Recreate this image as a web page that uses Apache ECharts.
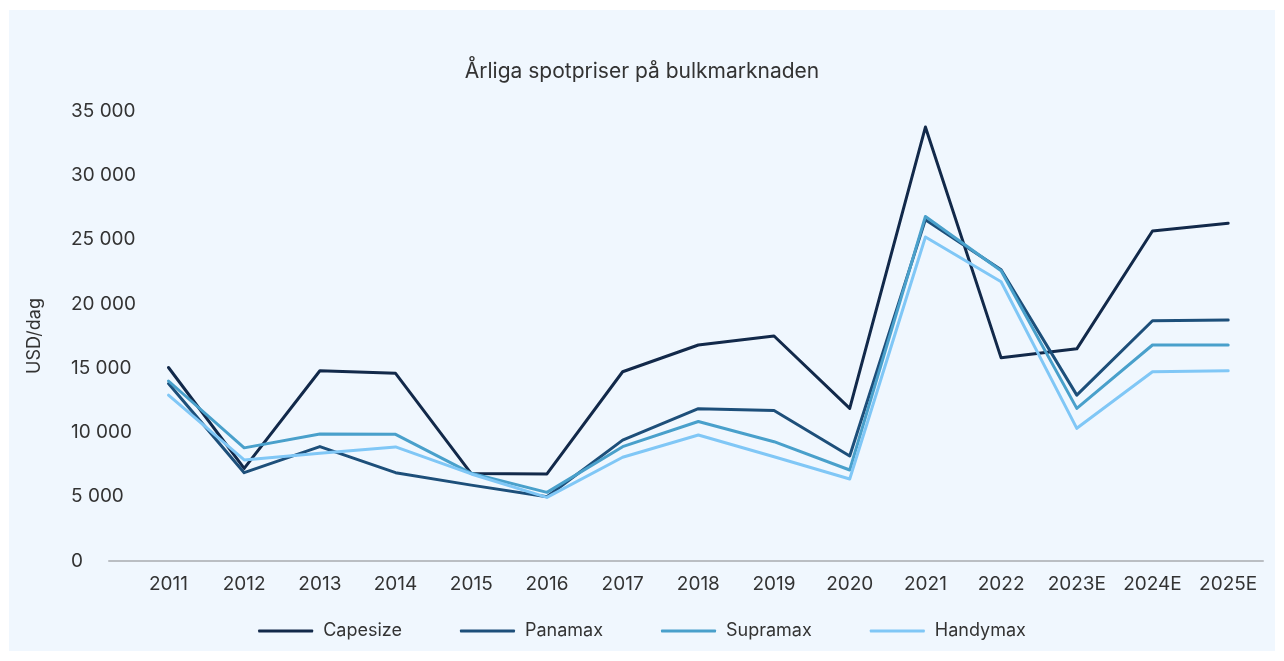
<!DOCTYPE html>
<html>
<head>
<meta charset="utf-8">
<script src="https://cdn.jsdelivr.net/npm/echarts@6/dist/echarts.min.js"></script>
<style>
  html, body { margin: 0; padding: 0; background: #ffffff; }
  #chart { width: 1284px; height: 661px; }
</style>
</head>
<body>
<div id="chart"></div>
<script>
    // kategorier (år) och spotpriser, USD/dag
    var years = ['2011', '2012', '2013', '2014', '2015', '2016', '2017', '2018',
        '2019', '2020', '2021', '2022', '2023E', '2024E', '2025E'];
    var capesize = [15050, 7200, 14800, 14600, 6800, 6770, 14720, 16800, 17500, 11870, 33750, 15800, 16500, 25670, 26270];
    var panamax  = [13800, 6870, 8900, 6870, 5900, 5000, 9400, 11850, 11700, 8170, 26550, 22650, 12900, 18690, 18740];
    var supramax = [14000, 8800, 9880, 9850, 6820, 5340, 8890, 10850, 9280, 7080, 26800, 22580, 11870, 16800, 16800];
    var handymax = [12900, 7860, 8380, 8870, 6770, 4950, 8070, 9800, 8110, 6380, 25200, 21720, 10320, 14720, 14800];
    var yTicks = [0, 5000, 10000, 15000, 20000, 25000, 30000, 35000];

    var fontFamily = 'Inter, "Noto Sans", sans-serif';
    var textColor = '#333333';

    function toPairs(arr) {
        return arr.map(function (v, i) { return [i, v]; });
    }

    function makeSeries(name, data, color) {
        return {
            name: name,
            type: 'line',
            data: toPairs(data),
            symbol: 'none',
            lineStyle: { color: color, width: 3, cap: 'round', join: 'round' },
            itemStyle: { color: color }
        };
    }

    var myChart = echarts.init(document.getElementById('chart'));

    var option = {
        animation: false,
        backgroundColor: '#ffffff',
        graphic: [{
            type: 'rect',
            z: -10,
            shape: { x: 9, y: 10, width: 1266, height: 641 },
            style: { fill: '#f0f7fe' }
        }],
        title: {
            text: 'Årliga spotpriser på bulkmarknaden',
            left: 'center',
            top: 56,
            textStyle: { fontFamily: fontFamily, fontSize: 21, fontWeight: 'normal', color: textColor }
        },
        legend: {
            bottom: 16,
            left: 'center',
            icon: 'roundRect',
            itemWidth: 55,
            itemHeight: 3,
            itemGap: 58,
            textStyle: { fontFamily: fontFamily, fontSize: 18, color: textColor, padding: [0, 0, 0, 5] },
            data: ['Capesize', 'Panamax', 'Supramax', 'Handymax']
        },
        grid: { left: 109, right: 21, top: 111, bottom: 100, containLabel: false },
        xAxis: {
            type: 'value',
            min: -0.786,
            max: 14.46,
            splitLine: { show: false },
            axisTick: { show: false },
            axisLine: { show: true, lineStyle: { color: '#babec3', width: 2 } },
            axisLabel: {
                customValues: years.map(function (y, i) { return i; }),
                formatter: function (v) { return years[Math.round(v)]; },
                margin: 14,
                fontFamily: fontFamily,
                fontSize: 19,
                color: textColor
            }
        },
        yAxis: {
            type: 'value',
            min: 0,
            max: 35000,
            interval: 5000,
            name: 'USD/dag',
            nameLocation: 'middle',
            nameGap: 65,
            nameRotate: 90,
            nameTextStyle: { fontFamily: fontFamily, fontSize: 18, color: textColor },
            splitLine: { show: false },
            axisLine: { show: false },
            axisTick: { show: false },
            axisLabel: {
                customValues: yTicks,
                align: 'left',
                margin: 38,
                fontFamily: fontFamily,
                fontSize: 19,
                color: textColor,
                formatter: function (v) {
                    return String(v).replace(/\B(?=(\d{3})+(?!\d))/g, ' ');
                }
            }
        },
        series: [
            makeSeries('Capesize', capesize, '#12294a'),
            makeSeries('Panamax', panamax, '#1d4f7a'),
            makeSeries('Supramax', supramax, '#49a0cb'),
            makeSeries('Handymax', handymax, '#80c7f6')
        ]
    };

    myChart.setOption(option);
</script>
</body>
</html>
